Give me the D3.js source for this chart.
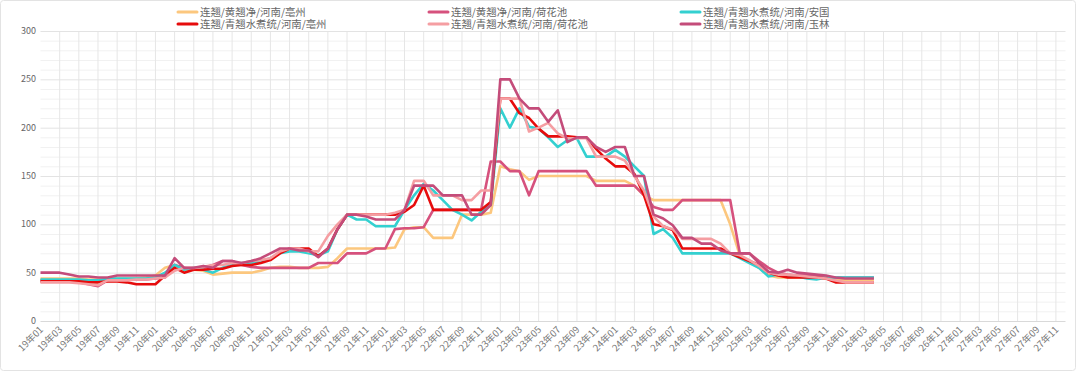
<!DOCTYPE html>
<html>
<head>
<meta charset="utf-8">
<script src="https://cdn.jsdelivr.net/npm/d3@7"></script>
<style>
  html, body { margin: 0; padding: 0; background: #fff; }
  svg { display: block; font-family: "Noto Sans CJK SC", "Noto Sans", sans-serif; }
</style>
</head>
<body>
<div id="chart"></div>
<script>
// months 19年01 .. 27年12
const months = [];
for (let y = 19; y <= 27; y++) {
  for (let m = 1; m <= 12; m++) months.push(`${y}年${String(m).padStart(2, "0")}`);
}

const seriesNames = [
  "连翘/黄翘净/河南/亳州",
  "连翘/黄翘净/河南/荷花池",
  "连翘/青翘水煮统/河南/安国",
  "连翘/青翘水煮统/河南/亳州",
  "连翘/青翘水煮统/河南/荷花池",
  "连翘/青翘水煮统/河南/玉林"
];

// values from 19年01 to 26年04
const hjBozhou = [
  44,44,44,44,44,43,43,44,44,44,44,45,
  47,55,58,53,53,52,48,49,50,50,50,52,
  55,56,56,55,55,55,56,65,75,75,75,75,
  75,76,95,97,97,86,86,86,110,110,110,112,
  160,157,155,146,150,150,150,150,150,150,145,145,
  145,145,140,130,125,125,125,125,125,125,125,125,
  100,68,62,55,47,45,45,45,46,45,44,43,
  42,42,42,42
];
const hjHehuachi = [
  42,42,42,41,40,38,36,42,43,43,43,43,
  44,45,58,55,53,55,58,62,62,58,56,55,
  55,55,55,55,55,60,60,60,70,70,70,75,
  75,95,96,96,97,115,115,115,115,115,115,165,
  165,155,155,130,155,155,155,155,155,155,140,140,
  140,140,140,130,118,115,115,125,125,125,125,125,
  125,70,70,62,55,50,48,47,47,46,45,45,
  45,45,45,45
];
const qqAnguo = [
  43,43,43,43,43,42,42,44,44,44,44,44,
  45,50,58,53,55,53,50,55,58,60,60,62,
  65,70,72,72,70,68,72,95,110,105,105,98,
  98,98,115,130,142,135,125,115,110,104,113,120,
  220,200,220,201,199,190,180,187,189,170,170,170,
  177,170,160,150,90,95,86,70,70,70,70,70,
  70,65,60,55,46,48,47,46,44,43,45,45,
  45,45,45,45
];
const qqBozhou = [
  41,41,41,41,41,40,40,41,41,40,38,38,
  38,47,55,50,53,53,54,54,57,58,58,60,
  63,70,75,75,75,67,75,95,110,110,110,110,
  110,110,113,120,140,115,115,115,115,115,115,123,
  230,230,215,210,199,191,191,191,190,190,178,168,
  160,160,152,130,100,98,94,75,75,75,75,75,
  70,66,62,58,50,47,45,45,45,45,44,40,
  40,40,40,40
];
const qqHehuachi = [
  40,40,40,40,39,38,37,42,42,42,43,43,
  44,45,52,55,55,56,58,58,60,60,62,63,
  65,72,75,75,72,72,88,100,110,110,110,110,
  110,112,115,145,145,130,130,130,125,125,135,135,
  230,230,230,196,200,205,194,189,189,189,170,170,
  170,166,150,135,108,98,95,85,85,85,85,80,
  70,68,63,57,50,48,48,47,46,45,44,42,
  40,40,40,40
];
const qqYulin = [
  50,50,50,48,46,46,45,45,47,47,47,47,
  47,47,65,55,55,57,55,62,62,60,62,65,
  70,75,75,73,73,66,75,95,110,110,108,105,
  105,105,115,140,140,140,130,130,130,110,110,120,
  250,250,230,220,220,206,218,185,190,190,180,175,
  180,180,150,150,110,106,99,86,86,80,80,73,
  70,70,70,60,51,50,53,50,49,48,47,45,
  44,44,44,44
];

const allValues = [hjBozhou, hjHehuachi, qqAnguo, qqBozhou, qqHehuachi, qqYulin];
const colors = ["#fcc77e", "#d6517d", "#33d0d0", "#e60c0c", "#f59ea2", "#c44c7a"];
const yTicks = [0, 50, 100, 150, 200, 250, 300];

const width = 1080, height = 374;
const svg = d3.select("#chart").append("svg")
  .attr("width", width)
  .attr("height", height);

// frame
svg.append("rect")
  .attr("x", 0.5).attr("y", 0.5)
  .attr("width", 1075).attr("height", 370)
  .attr("rx", 3)
  .attr("fill", "#fff")
  .attr("stroke", "#e3e3e3");

const x = d3.scalePoint().domain(months).range([40.5, 1065.5]);
const y = d3.scaleLinear().domain([0, 300]).range([321, 31]);

// grid
const grid = svg.append("g");
grid.selectAll("line.minor")
  .data(d3.range(10, 300, 10).filter(v => v % 50 !== 0))
  .join("line")
  .attr("x1", 40.5).attr("x2", 1065.5)
  .attr("y1", d => y(d) + 0.5).attr("y2", d => y(d) + 0.5)
  .attr("stroke", "#f1f1f1");
grid.selectAll("line.vert")
  .data(months.filter((d, i) => i % 2 === 0).slice(1))
  .join("line")
  .attr("x1", d => x(d)).attr("x2", d => x(d))
  .attr("y1", 31).attr("y2", 321)
  .attr("stroke", "#e6e6e6");
grid.selectAll("line.major")
  .data(yTicks.slice(1))
  .join("line")
  .attr("x1", 40.5).attr("x2", 1065.5)
  .attr("y1", d => y(d) + 0.5).attr("y2", d => y(d) + 0.5)
  .attr("stroke", "#e3e3e3");

// y axis labels
svg.append("g")
  .selectAll("text")
  .data(yTicks)
  .join("text")
  .attr("x", 36)
  .attr("y", d => y(d))
  .attr("dy", "0.35em")
  .attr("text-anchor", "end")
  .style("font-size", "9px")
  .style("fill", "#666")
  .text(d => d);

// x axis
svg.append("line")
  .attr("x1", 40.5).attr("x2", 1065.5)
  .attr("y1", 321.5).attr("y2", 321.5)
  .attr("stroke", "#d9d9d9");

svg.append("g")
  .selectAll("text")
  .data(months.filter((d, i) => i % 2 === 0))
  .join("text")
  .attr("transform", d => `translate(${x(d) + 1}, 328) rotate(-45)`)
  .attr("text-anchor", "end")
  .attr("dy", "0.35em")
  .style("font-size", "9.5px")
  .style("fill", "#777")
  .text(d => d);

// lines
const line = d3.line()
  .x((d, i) => x(months[i]))
  .y(d => y(d));

svg.append("g")
  .selectAll("path")
  .data(allValues)
  .join("path")
  .attr("d", d => line(d))
  .attr("fill", "none")
  .attr("stroke", (d, i) => colors[i])
  .attr("stroke-width", 2.6)
  .attr("stroke-linejoin", "round");

// legend
const legendX = [178, 429, 681];
const legend = svg.append("g")
  .selectAll("g")
  .data(seriesNames)
  .join("g")
  .attr("transform", (d, i) => `translate(${legendX[i % 3]}, ${i < 3 ? 12 : 24})`);
legend.append("line")
  .attr("x1", 0).attr("x2", 19)
  .attr("stroke", (d, i) => colors[i])
  .attr("stroke-width", 3)
  .attr("stroke-linecap", "round");
legend.append("text")
  .attr("x", 22)
  .attr("dy", "0.35em")
  .style("font-size", "10.4px")
  .style("fill", "#666")
  .text(d => d);
</script>
</body>
</html>
